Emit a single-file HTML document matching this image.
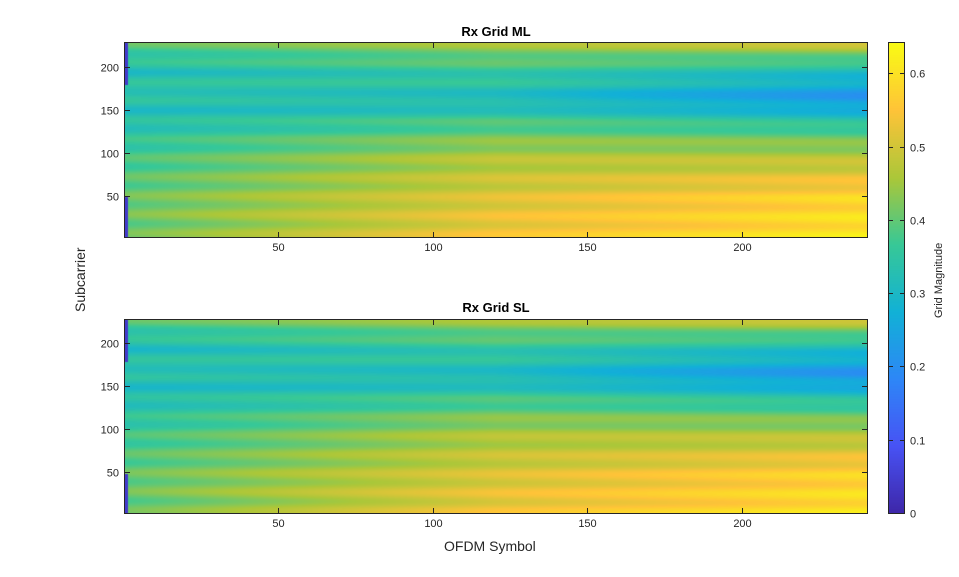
<!DOCTYPE html>
<html><head><meta charset="utf-8"><style>
body{margin:0;background:#fff;width:959px;height:577px;position:relative;overflow:hidden;font-family:"Liberation Sans",sans-serif;color:#262626}
.t{position:absolute;font-size:11px;white-space:nowrap}
canvas{position:absolute}
.box{position:absolute;border:1px solid #262626;box-sizing:border-box}
.title{position:absolute;font-weight:bold;font-size:13px;color:#000;transform:translateX(-50%)}
</style></head><body>
<canvas id="c1" width="742" height="194" style="left:125px;top:43px"></canvas>
<canvas id="c2" width="742" height="193" style="left:125px;top:320px"></canvas>
<canvas id="cb" width="15" height="470" style="left:889px;top:43px"></canvas>
<div class="box" style="left:124px;top:42px;width:744px;height:196px"></div>
<div class="box" style="left:124px;top:319px;width:744px;height:195px"></div>
<div class="box" style="left:888px;top:42px;width:17px;height:472px"></div>
<div class="title" style="left:496px;top:24px">Rx Grid ML</div>
<div class="title" style="left:496px;top:300px">Rx Grid SL</div>
<div class="t" style="left:72px;top:312px;font-size:14px;transform:rotate(-90deg);transform-origin:0 0">Subcarrier</div>
<div class="t" style="left:444px;top:538px;font-size:14px">OFDM Symbol</div>
<div class="t" style="left:933px;top:318px;transform:rotate(-90deg);transform-origin:0 0">Grid Magnitude</div>
<svg width="959" height="577" style="position:absolute;left:0;top:0" id="s"></svg>
<script>
var svg=document.getElementById('s'),h='';
function txt(x,y,s,a){h+='<text x="'+x+'" y="'+y+'" font-size="11" fill="#262626" font-family="Liberation Sans" text-anchor="'+a+'">'+s+'</text>';}
function ln(x1,y1,x2,y2){h+='<line x1="'+x1+'" y1="'+y1+'" x2="'+x2+'" y2="'+y2+'" stroke="#262626" stroke-width="1"/>';}
[[43,237],[320,513]].forEach(function(p){
 var top=p[0],bot=p[1];
 [50,100,150,200].forEach(function(v){
  var x=Math.round(123.2+v*3.095)+.5;
  ln(x,bot,x,bot-5);ln(x,top,x,top+5);txt(x,bot+14,v,'middle');
  var y=Math.round(bot+2-v*0.86)+.5;
  ln(125,y,130,y);ln(867,y,862,y);txt(119,y+4,v,'end');
 });
});
for(var i=0;i<=6;i++){var y=Math.round(513-i*73.3)+.5;ln(904,y,900,y);ln(889,y,893,y);txt(910,y+4,i==0?'0':(i/10).toFixed(1),'start');}
svg.innerHTML=h;
var P=[[0.2422,0.1504,0.6603],[0.2810,0.3228,0.9579],[0.1786,0.5289,0.9682],[0.0689,0.6948,0.8394],[0.2161,0.7843,0.5923],[0.6720,0.7793,0.2227],[0.9970,0.7659,0.2199],[0.9769,0.9839,0.0805]];
function col(m){var v=m/0.641*7;v=Math.max(0,Math.min(6.999,v));var i=Math.floor(v),f=v-i,a=P[i],b=P[i+1];return[(a[0]+(b[0]-a[0])*f)*255,(a[1]+(b[1]-a[1])*f)*255,(a[2]+(b[2]-a[2])*f)*255];}
function interp(t,k){for(var i=0;i<t.length-1;i++){if(k<=t[i+1][0]){var f=(k-t[i][0])/(t[i+1][0]-t[i][0]);return t[i][1]+(t[i+1][1]-t[i][1])*f;}}return t[t.length-1][1];}
var L=[[0,0.40],[40,0.41],[100,0.37],[150,0.32],[175,0.35],[195,0.32],[228,0.39]];
var M=[[0,0.54],[40,0.52],[100,0.46],[140,0.37],[160,0.31],[200,0.37],[228,0.45]];
var R=[[0,0.61],[50,0.58],[100,0.46],[130,0.37],[165,0.21],[200,0.33],[228,0.49]];
function mag(s,k,d){var a=interp(L,k),b=interp(M,k),c=interp(R,k),base;
 if(s<120)base=a+(b-a)*s/120;else base=b+(c-b)*(s-120)/120;
 var r=0.022*Math.cos(2*Math.PI*(k-8)/22+s*0.004)+d;return base+r;}
function draw(id,H,d){var c=document.getElementById(id),x=c.getContext('2d'),W=742,im=x.createImageData(W,H);
 for(var py=0;py<H;py++){var k=228.5-py/0.86;for(var px=0;px<W;px++){var s=0.5+px/3.095,m;
  if(px<3&&(k<50||k>180))m=0.04;else m=mag(s,k,d);
  var cc=col(m),o=(py*W+px)*4;im.data[o]=cc[0];im.data[o+1]=cc[1];im.data[o+2]=cc[2];im.data[o+3]=255;}}
 x.putImageData(im,0,0);}
draw('c1',194,0);draw('c2',193,-0.005);
var cb=document.getElementById('cb').getContext('2d');
for(var y=0;y<470;y++){var cc=col((470-y)/470*0.641);cb.fillStyle='rgb('+cc.map(Math.round).join(',')+')';cb.fillRect(0,y,15,1);}
</script>
</body></html>
